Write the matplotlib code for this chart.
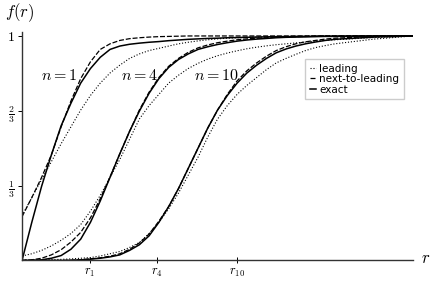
import matplotlib
matplotlib.use("Agg")
import matplotlib.pyplot as plt

plt.rcParams['mathtext.fontset'] = 'cm'

# sample points in r (arbitrary units, axis runs 0..10)
r = [0, 0.25, 0.5, 0.75, 1.0, 1.25, 1.5, 1.75, 2.0, 2.25, 2.5, 2.75, 3.0,
     3.25, 3.5, 3.75, 4.0, 4.25, 4.5, 4.75, 5.0, 5.25, 5.5, 5.75, 6.0,
     6.25, 6.5, 6.75, 7.0, 7.25, 7.5, 7.75, 8.0, 9.0, 10.0]

# n = 1
n1_exact = [0, 0.17, 0.33, 0.47, 0.60, 0.70, 0.79, 0.855, 0.905, 0.94, 0.955, 0.963,
            0.968, 0.972, 0.975, 0.979, 0.982, 0.985, 0.987, 0.989, 0.99, 0.992,
            0.993, 0.994, 0.995, 0.996, 0.997, 0.997, 0.998, 0.998, 0.999, 0.999,
            0.999, 1.0, 1.0]
n1_nlo = [0.195, 0.28, 0.37, 0.47, 0.595, 0.71, 0.81, 0.885, 0.94, 0.965, 0.98,
          0.988, 0.992, 0.995, 0.997, 0.998, 0.999, 1.0, 1.0, 1.0, 1.0, 1.0, 1.0,
          1.0, 1.0, 1.0, 1.0, 1.0, 1.0, 1.0, 1.0, 1.0, 1.0, 1.0, 1.0]
n1_lead = [0.20, 0.28, 0.36, 0.44, 0.52, 0.595, 0.67, 0.735, 0.79, 0.835, 0.87,
           0.90, 0.92, 0.935, 0.945, 0.955, 0.965, 0.972, 0.978, 0.983, 0.987,
           0.99, 0.992, 0.994, 0.995, 0.996, 0.997, 0.998, 0.998, 0.999, 0.999,
           1.0, 1.0, 1.0, 1.0]

# n = 4
n4_exact = [0, 0.0, 0.003, 0.01, 0.022, 0.05, 0.095, 0.17, 0.265, 0.37, 0.475,
            0.575, 0.665, 0.745, 0.81, 0.86, 0.895, 0.92, 0.94, 0.952, 0.962,
            0.97, 0.977, 0.982, 0.986, 0.989, 0.992, 0.994, 0.995, 0.996, 0.997,
            0.998, 0.998, 0.999, 1.0]
n4_nlo = [0, 0.003, 0.01, 0.025, 0.048, 0.082, 0.125, 0.19, 0.275, 0.372, 0.475,
          0.575, 0.67, 0.75, 0.815, 0.865, 0.90, 0.927, 0.947, 0.96, 0.97,
          0.977, 0.983, 0.987, 0.99, 0.992, 0.994, 0.996, 0.997, 0.998, 0.998,
          0.999, 0.999, 1.0, 1.0]
n4_lead = [0.02, 0.03, 0.045, 0.065, 0.09, 0.12, 0.16, 0.22, 0.29, 0.37, 0.45,
           0.54, 0.63, 0.69, 0.74, 0.79, 0.825, 0.855, 0.878, 0.897, 0.912,
           0.924, 0.934, 0.943, 0.95, 0.956, 0.961, 0.965, 0.969, 0.973, 0.977,
           0.98, 0.983, 0.993, 1.0]

# n = 10
n10_exact = [0, 0, 0, 0, 0, 0.001, 0.003, 0.006, 0.01, 0.016, 0.025, 0.045,
             0.07, 0.11, 0.17, 0.24, 0.32, 0.41, 0.50, 0.59, 0.67, 0.735, 0.79,
             0.835, 0.87, 0.90, 0.925, 0.942, 0.955, 0.965, 0.973, 0.98, 0.985,
             0.995, 1.0]
n10_nlo = [0, 0, 0, 0, 0, 0.001, 0.003, 0.007, 0.012, 0.019, 0.03, 0.05,
           0.078, 0.118, 0.175, 0.24, 0.32, 0.41, 0.50, 0.59, 0.67, 0.74, 0.80,
           0.845, 0.88, 0.91, 0.935, 0.952, 0.965, 0.974, 0.98, 0.986, 0.99,
           0.998, 1.0]
n10_lead = [0.002, 0.002, 0.003, 0.004, 0.005, 0.007, 0.01, 0.013, 0.02, 0.03,
            0.04, 0.058, 0.08, 0.12, 0.17, 0.23, 0.30, 0.38, 0.46, 0.55, 0.63,
            0.69, 0.74, 0.78, 0.815, 0.85, 0.88, 0.90, 0.918, 0.935, 0.948,
            0.957, 0.965, 0.986, 1.0]

curve_labels = ['$n=1$', '$n=4$', '$n=10$']
label_pos = [(0.95, 0.826), (3.0, 0.826), (4.96, 0.826)]
xtick_pos = [1.74, 3.45, 5.5]
xtick_labels = ['$r_1$', '$r_4$', '$r_{10}$']
ytick_pos = [1/3, 2/3, 1]
ytick_labels = [r'$\frac{1}{3}$', r'$\frac{2}{3}$', '$1$']

fig = plt.figure(figsize=(4.36, 2.85), dpi=100)
ax = fig.add_axes([0.0505, 0.086, 0.897, 0.802])

groups = [(n1_lead, n1_nlo, n1_exact),
          (n4_lead, n4_nlo, n4_exact),
          (n10_lead, n10_nlo, n10_exact)]
for i, (lead, nlo, exact) in enumerate(groups):
    ax.plot(r, lead, color='k', ls=':', lw=0.8,
            label='leading' if i == 0 else None)
    ax.plot(r, nlo, color='k', ls=(0, (4, 1.5)), lw=0.9,
            label='next-to-leading' if i == 0 else None)
    ax.plot(r, exact, color='k', ls='-', lw=1.1,
            label='exact' if i == 0 else None)

for txt, (x, y) in zip(curve_labels, label_pos):
    ax.text(x, y, txt, fontsize=11.5, ha='center', va='center')

ax.set_xlim(0, 10)
ax.set_ylim(0, 1.018)
ax.set_xticks(xtick_pos)
ax.set_xticklabels(xtick_labels, fontsize=9)
ax.set_yticks(ytick_pos)
ax.set_yticklabels(ytick_labels, fontsize=10)
ax.tick_params(axis='x', direction='inout', length=4, width=0.7, pad=2)
ax.tick_params(axis='y', direction='out', length=3, width=0.7, pad=2)

for side in ['top', 'right']:
    ax.spines[side].set_visible(False)
for side in ['left', 'bottom']:
    ax.spines[side].set_linewidth(1.0)
    ax.spines[side].set_color('#333333')

fig.text(0.012, 0.955, '$f(r)$', fontsize=12, ha='left', va='center')
fig.text(0.965, 0.095, '$r$', fontsize=12, ha='left', va='center')

ax.legend(loc='upper left', bbox_to_anchor=(0.724, 0.882), borderaxespad=0,
          fontsize=7.5, handlelength=0.6, handletextpad=0.3, labelspacing=0.05,
          borderpad=0.45, fancybox=False, edgecolor='#cccccc', framealpha=1)

fig.savefig('out.png', dpi=100)
